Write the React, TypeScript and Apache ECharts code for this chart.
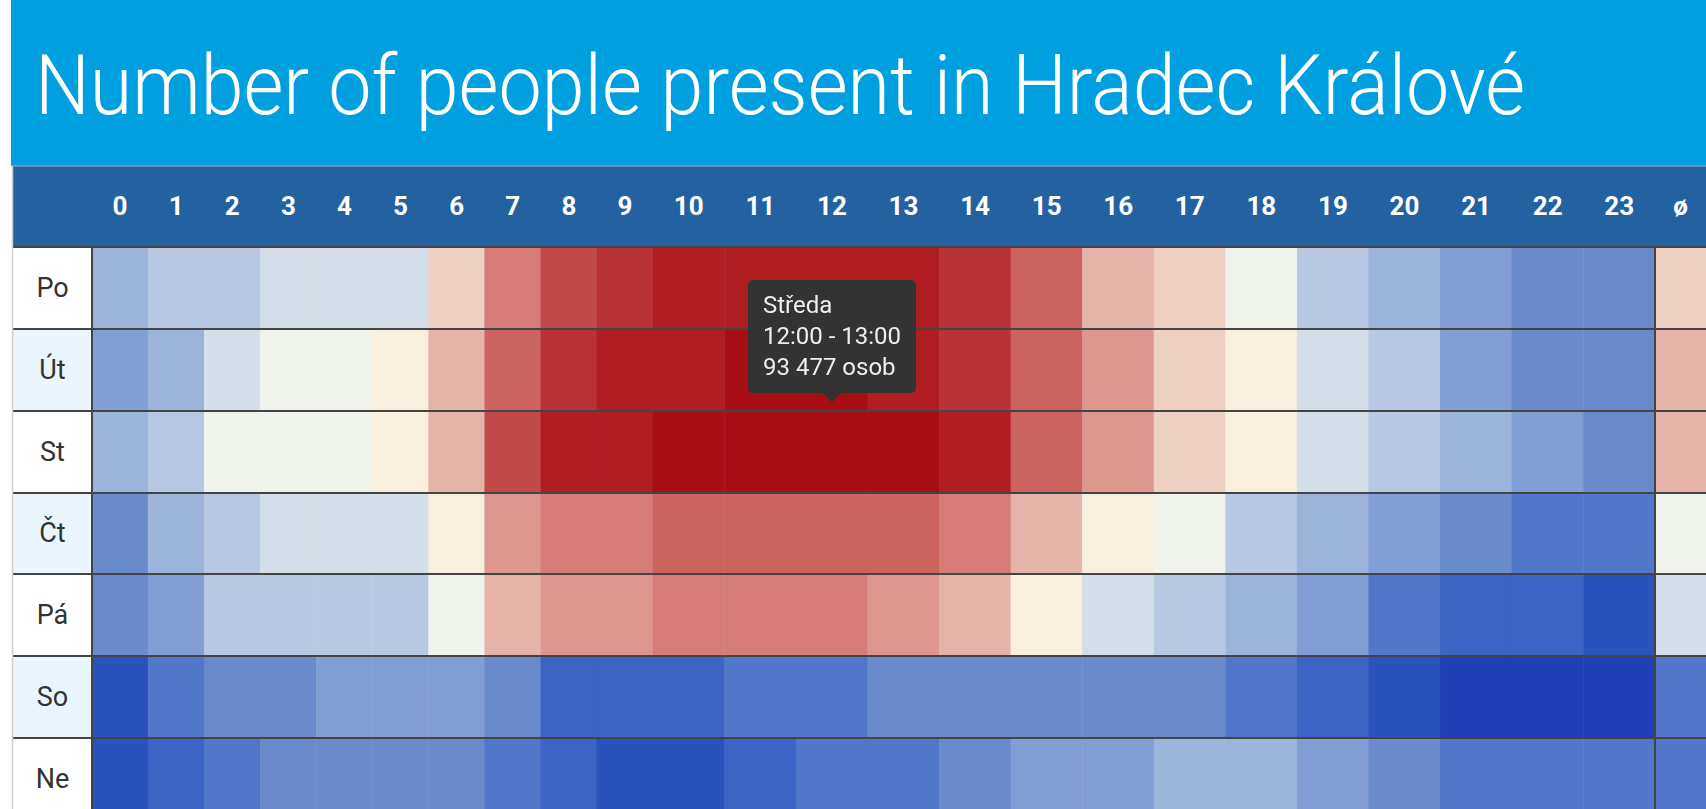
import React, { useEffect, useRef } from 'react';
import * as echarts from 'echarts';

const titleText = 'Number of people present in Hradec Králové';
const days = ['Po', 'Út', 'St', 'Čt', 'Pá', 'So', 'Ne'];
const dayNames = ['Pondělí', 'Úterý', 'Středa', 'Čtvrtek', 'Pátek', 'Sobota', 'Neděle'];
const hours = ['0', '1', '2', '3', '4', '5', '6', '7', '8', '9', '10', '11', '12', '13', '14', '15', '16', '17', '18', '19', '20', '21', '22', '23'];
const avgLabel = 'ø';

const poValues = [75120, 76340, 75980, 77650, 77480, 78010, 81960, 86240, 89130, 90560, 91780, 92140, 92310, 91920, 90870, 87690, 83520, 81890, 79240, 76510, 74980, 73640, 72310, 71840];
const utValues = [73890, 75230, 77840, 79120, 78960, 80470, 83610, 87920, 90750, 92010, 92480, 92910, 93050, 92370, 91030, 88190, 85140, 82560, 81230, 78420, 76930, 74210, 72890, 72650];
const stValues = [75510, 76820, 79080, 79410, 79290, 80650, 83870, 89340, 91960, 92420, 93120, 93390, 93477, 93210, 92280, 88260, 85010, 82230, 80890, 78150, 77020, 75370, 73960, 72780];
const ctValues = [72540, 74870, 76290, 77560, 77390, 77920, 80360, 84870, 86120, 86540, 87340, 87610, 87780, 87450, 86290, 83490, 80720, 79350, 76640, 75080, 73520, 72150, 71020, 70690];
const paValues = [72280, 73710, 76080, 76450, 76310, 76720, 79170, 83340, 84720, 85060, 85930, 86210, 86060, 85380, 83690, 80540, 77830, 76190, 74960, 73380, 70860, 69540, 69170, 68230];
const soValues = [68120, 70840, 71980, 72260, 73310, 73570, 73420, 72490, 69830, 69610, 70020, 70560, 70910, 71750, 72130, 72380, 72210, 71890, 70730, 69450, 68310, 67130, 66840, 66720];
const neValues = [68340, 69470, 70630, 71820, 72040, 72170, 71930, 71080, 69920, 68560, 68690, 69380, 70470, 70810, 72060, 73280, 73650, 74620, 74510, 73460, 72350, 71240, 71030, 70860];
const rowValues = [poValues, utValues, stValues, ctValues, paValues, soValues, neValues];
const averages = [82046, 83078, 83646, 79733, 77992, 70686, 71349];

const levelBounds = [66000, 67400, 68800, 70200, 71600, 73000, 74400, 75800, 77200, 78600, 80000, 81400, 82800, 84200, 85600, 87000, 88400, 89800, 91200, 92600, 94000];
const palette = ['#1e3fb5', '#2a52bb', '#3c64c4', '#5177c8', '#6a8bcb', '#819fd4', '#9cb3da', '#b8c8e2', '#d3dee8', '#f0f2ec', '#f8efdf', '#eed0c4', '#e6b3aa', '#dd978f', '#d47c75', '#cb645f', '#c14b49', '#b93336', '#b11e22', '#a80f15'];

const tipDay = 'St';
const tipHour = '12';

const FONT = 'Roboto, "Noto Sans", sans-serif';
const TOP = 247;
const ROW_H = 81.8;
const GRID_H = ROW_H * days.length;

const fmt = (v: number) => String(Math.round(v)).replace(/\B(?=(\d{3})+(?!\d))/g, ' ');

function buildCells(hourList: string[]) {
  const out: any[] = [];
  days.forEach((_, d) => {
    hourList.forEach((h, i) => {
      out.push({ value: [i, d, rowValues[d][hours.indexOf(h)]], hour: h, day: d });
    });
  });
  return out;
}

export default function App() {
  const ref = useRef<HTMLDivElement>(null);
  useEffect(() => {
    document.body.style.margin = '0';
    document.body.style.overflow = 'hidden';
    const chart = echarts.init(ref.current as HTMLDivElement, null, { renderer: 'svg' });
    const hoursA = hours.slice(0, 10);
    const hoursB = hours.slice(10);
    const cellsA = buildCells(hoursA);
    const cellsB = buildCells(hoursB);
    const cellsAvg = averages.map((v, d) => ({ value: [0, d, v], hour: null, day: d }));

    const xAxisBase = (gridIndex: number, data: string[]) => ({
      type: 'category',
      gridIndex,
      data,
      position: 'top',
      axisLine: { show: false },
      axisTick: { show: false },
      splitLine: { show: false },
      axisLabel: {
        color: '#ffffff',
        fontFamily: FONT,
        fontWeight: 'bold',
        fontSize: 26,
        margin: 41,
        verticalAlign: 'middle',
        interval: 0,
      },
    });
    const yAxisBase = (gridIndex: number, showLine: boolean) => ({
      type: 'category',
      gridIndex,
      data: days,
      inverse: true,
      z: 5,
      axisTick: { show: false },
      axisLabel: { show: false },
      axisLine: { show: showLine, lineStyle: { color: '#444444', width: 2 } },
      splitLine: { show: true, lineStyle: { color: '#444444', width: 2 } },
    });

    const pieces = palette.map((c, i) => ({ gte: levelBounds[i], lt: levelBounds[i + 1], color: c }));

    const option: any = {
      animation: false,
      backgroundColor: '#ffffff',
      textStyle: { fontFamily: FONT },
      graphic: [
        { type: 'rect', shape: { x: 11, y: 0, width: 1695, height: 166 }, style: { fill: '#009fe0' }, z: 0 },
        { type: 'rect', shape: { x: 13, y: 166, width: 1693, height: 81 }, style: { fill: '#2361a1' }, z: 0 },
        { type: 'line', shape: { x1: 11, y1: 166, x2: 1706, y2: 166 }, style: { stroke: '#9fb6cc', lineWidth: 1 }, z: 1 },
        { type: 'line', shape: { x1: 12.5, y1: 166, x2: 12.5, y2: 840 }, style: { stroke: '#cfcfcf', lineWidth: 1.5 }, z: 10 },
        {
          type: 'text',
          x: 35,
          y: 86.5,
          scaleX: 0.93,
          style: { text: titleText, fill: '#ffffff', font: `300 83px ${FONT}`, verticalAlign: 'middle', align: 'left' },
          z: 10,
        },
      ],
      grid: [
        { left: 13, top: TOP, width: 79, height: GRID_H },
        { left: 92, top: TOP, width: 561, height: GRID_H },
        { left: 653, top: TOP, width: 1002, height: GRID_H },
        { left: 1655, top: TOP, width: 62, height: GRID_H },
      ],
      xAxis: [
        { type: 'category', gridIndex: 0, data: [''], show: false },
        xAxisBase(1, hoursA),
        xAxisBase(2, hoursB),
        xAxisBase(3, [avgLabel]),
      ],
      yAxis: [
        {
          type: 'category',
          gridIndex: 0,
          data: days,
          inverse: true,
          z: 5,
          axisTick: { show: false },
          axisLine: { show: false },
          axisLabel: {
            inside: true,
            margin: 39.5,
            align: 'center',
            color: '#333333',
            fontFamily: FONT,
            fontSize: 27,
          },
          splitLine: { show: true, lineStyle: { color: '#444444', width: 2 } },
          splitArea: { show: true, areaStyle: { color: ['#ffffff', '#ebf5fe'] } },
        },
        yAxisBase(1, true),
        yAxisBase(2, false),
        yAxisBase(3, true),
      ],
      visualMap: { type: 'piecewise', show: false, dimension: 2, pieces },
      tooltip: {
        trigger: 'item',
        triggerOn: 'none',
        alwaysShowContent: true,
        position: 'top',
        transitionDuration: 0,
        backgroundColor: '#333333',
        borderColor: '#333333',
        borderWidth: 6,
        borderRadius: 5,
        padding: [4, 9],
        extraCssText: 'box-shadow:none;',
        textStyle: { color: '#eeeeee', fontFamily: FONT, fontSize: 24 },
        formatter: (p: any) => {
          const d = p.data;
          const name = dayNames[d.day];
          const h = d.hour;
          const range = h == null ? avgLabel : `${h}:00 - ${Number(h) + 1}:00`;
          return `<div style="line-height:31px;font-size:24px;color:#eeeeee;font-family:Roboto">${name}<br/>${range}<br/>${fmt(d.value[2])} osob</div>`;
        },
      },
      series: [
        { type: 'heatmap', xAxisIndex: 1, yAxisIndex: 1, data: cellsA, emphasis: { disabled: true } },
        { type: 'heatmap', xAxisIndex: 2, yAxisIndex: 2, data: cellsB, emphasis: { disabled: true } },
        { type: 'heatmap', xAxisIndex: 3, yAxisIndex: 3, data: cellsAvg, emphasis: { disabled: true } },
      ],
    };
    chart.setOption(option);
    const tipIndex = cellsB.findIndex((c) => c.hour === tipHour && days[c.day] === tipDay);
    chart.dispatchAction({ type: 'showTip', seriesIndex: 1, dataIndex: tipIndex, position: 'top' });
    return () => chart.dispose();
  }, []);
  return (
    <div style={{ width: 1706, height: 809, overflow: 'hidden', position: 'relative' }}>
      <div ref={ref} style={{ width: 1706, height: 840 }} />
    </div>
  );
}
